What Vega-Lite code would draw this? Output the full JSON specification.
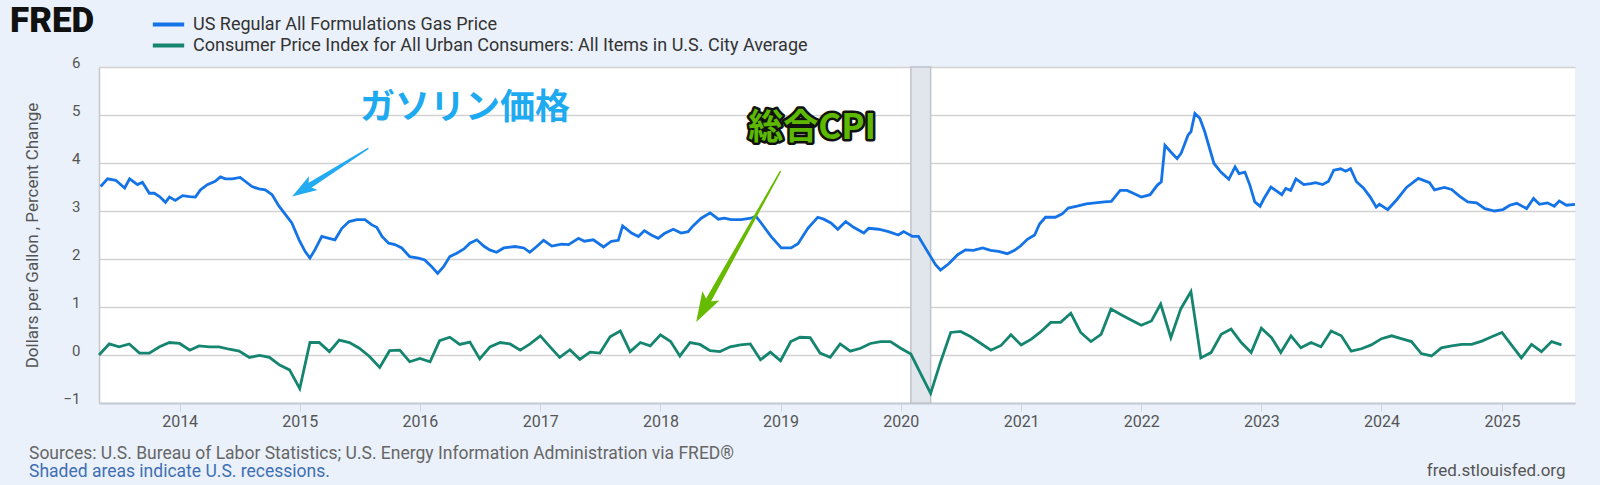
{
  "$schema": "https://vega.github.io/schema/vega-lite/v6.json",
  "width": 1476,
  "height": 336,
  "autosize": "none",
  "padding": {"left": 99, "top": 67, "right": 25, "bottom": 82},
  "background": "#eaf1fa",
  "title": {
    "text": "Sources: U.S. Bureau of Labor Statistics; U.S. Energy Information Administration via FRED®",
    "subtitle": "Shaded areas indicate U.S. recessions.",
    "orient": "bottom",
    "anchor": "start",
    "frame": "group",
    "dx": -70,
    "offset": -33,
    "font": "Roboto",
    "fontSize": 17.5,
    "fontWeight": "normal",
    "color": "#666666",
    "subtitleFont": "Roboto",
    "subtitleFontSize": 17.5,
    "subtitleColor": "#3f6fb3",
    "subtitlePadding": 0
  },
  "datasets": {
    "gas": [
      {"date": "2013-05-06", "price": 3.51}, {"date": "2013-05-27", "price": 3.67}, {"date": "2013-06-21", "price": 3.64},
      {"date": "2013-07-18", "price": 3.48}, {"date": "2013-08-02", "price": 3.67}, {"date": "2013-08-26", "price": 3.55},
      {"date": "2013-09-10", "price": 3.60}, {"date": "2013-10-01", "price": 3.37}, {"date": "2013-10-16", "price": 3.37},
      {"date": "2013-11-01", "price": 3.30}, {"date": "2013-11-19", "price": 3.18}, {"date": "2013-12-01", "price": 3.29},
      {"date": "2013-12-19", "price": 3.22}, {"date": "2014-01-10", "price": 3.32}, {"date": "2014-01-31", "price": 3.30},
      {"date": "2014-02-18", "price": 3.29}, {"date": "2014-03-05", "price": 3.44}, {"date": "2014-03-26", "price": 3.55},
      {"date": "2014-04-19", "price": 3.62}, {"date": "2014-05-05", "price": 3.71}, {"date": "2014-05-20", "price": 3.67},
      {"date": "2014-06-10", "price": 3.67}, {"date": "2014-07-04", "price": 3.70}, {"date": "2014-07-19", "price": 3.62},
      {"date": "2014-08-09", "price": 3.51}, {"date": "2014-08-30", "price": 3.46}, {"date": "2014-09-18", "price": 3.44},
      {"date": "2014-10-09", "price": 3.34}, {"date": "2014-10-30", "price": 3.10}, {"date": "2014-11-17", "price": 2.94},
      {"date": "2014-12-08", "price": 2.75}, {"date": "2014-12-30", "price": 2.40}, {"date": "2015-01-17", "price": 2.16},
      {"date": "2015-02-01", "price": 2.02}, {"date": "2015-02-16", "price": 2.19}, {"date": "2015-03-09", "price": 2.47},
      {"date": "2015-03-31", "price": 2.43}, {"date": "2015-04-18", "price": 2.40}, {"date": "2015-05-09", "price": 2.64},
      {"date": "2015-05-31", "price": 2.78}, {"date": "2015-06-24", "price": 2.82}, {"date": "2015-07-18", "price": 2.82},
      {"date": "2015-08-08", "price": 2.71}, {"date": "2015-08-23", "price": 2.66}, {"date": "2015-09-08", "price": 2.47},
      {"date": "2015-09-28", "price": 2.33}, {"date": "2015-10-17", "price": 2.30}, {"date": "2015-11-07", "price": 2.23},
      {"date": "2015-12-01", "price": 2.05}, {"date": "2015-12-28", "price": 2.02}, {"date": "2016-01-16", "price": 1.98},
      {"date": "2016-02-06", "price": 1.84}, {"date": "2016-02-24", "price": 1.70}, {"date": "2016-03-13", "price": 1.84},
      {"date": "2016-04-01", "price": 2.05}, {"date": "2016-04-22", "price": 2.12}, {"date": "2016-05-14", "price": 2.21},
      {"date": "2016-06-01", "price": 2.33}, {"date": "2016-06-22", "price": 2.40}, {"date": "2016-07-13", "price": 2.27},
      {"date": "2016-07-31", "price": 2.19}, {"date": "2016-08-21", "price": 2.14}, {"date": "2016-09-12", "price": 2.23},
      {"date": "2016-10-16", "price": 2.26}, {"date": "2016-11-12", "price": 2.23}, {"date": "2016-11-30", "price": 2.14},
      {"date": "2016-12-21", "price": 2.26}, {"date": "2017-01-11", "price": 2.39}, {"date": "2017-02-05", "price": 2.27},
      {"date": "2017-03-07", "price": 2.31}, {"date": "2017-03-28", "price": 2.30}, {"date": "2017-04-27", "price": 2.43},
      {"date": "2017-05-15", "price": 2.37}, {"date": "2017-06-11", "price": 2.40}, {"date": "2017-07-12", "price": 2.25},
      {"date": "2017-08-05", "price": 2.37}, {"date": "2017-08-26", "price": 2.39}, {"date": "2017-09-08", "price": 2.69},
      {"date": "2017-10-05", "price": 2.54}, {"date": "2017-10-26", "price": 2.47}, {"date": "2017-11-13", "price": 2.59},
      {"date": "2017-12-04", "price": 2.50}, {"date": "2017-12-25", "price": 2.43}, {"date": "2018-01-13", "price": 2.53},
      {"date": "2018-02-09", "price": 2.62}, {"date": "2018-03-05", "price": 2.54}, {"date": "2018-03-26", "price": 2.57},
      {"date": "2018-04-10", "price": 2.69}, {"date": "2018-05-05", "price": 2.85}, {"date": "2018-06-01", "price": 2.96},
      {"date": "2018-06-26", "price": 2.83}, {"date": "2018-07-14", "price": 2.85}, {"date": "2018-08-04", "price": 2.82},
      {"date": "2018-09-03", "price": 2.82}, {"date": "2018-10-03", "price": 2.85}, {"date": "2018-10-18", "price": 2.89},
      {"date": "2018-11-03", "price": 2.75}, {"date": "2018-12-03", "price": 2.47}, {"date": "2019-01-03", "price": 2.23},
      {"date": "2019-02-02", "price": 2.23}, {"date": "2019-02-23", "price": 2.32}, {"date": "2019-03-25", "price": 2.64},
      {"date": "2019-04-24", "price": 2.87}, {"date": "2019-05-12", "price": 2.83}, {"date": "2019-06-03", "price": 2.75},
      {"date": "2019-06-24", "price": 2.62}, {"date": "2019-07-18", "price": 2.78}, {"date": "2019-08-11", "price": 2.66},
      {"date": "2019-09-11", "price": 2.54}, {"date": "2019-09-26", "price": 2.64}, {"date": "2019-10-26", "price": 2.62},
      {"date": "2019-11-25", "price": 2.57}, {"date": "2019-12-25", "price": 2.50}, {"date": "2020-01-10", "price": 2.57},
      {"date": "2020-02-06", "price": 2.47}, {"date": "2020-02-24", "price": 2.47}, {"date": "2020-03-10", "price": 2.30},
      {"date": "2020-04-01", "price": 2.05}, {"date": "2020-04-16", "price": 1.88}, {"date": "2020-05-01", "price": 1.77},
      {"date": "2020-05-26", "price": 1.90}, {"date": "2020-06-22", "price": 2.09}, {"date": "2020-07-16", "price": 2.19},
      {"date": "2020-08-09", "price": 2.18}, {"date": "2020-09-06", "price": 2.23}, {"date": "2020-09-30", "price": 2.18},
      {"date": "2020-10-24", "price": 2.16}, {"date": "2020-11-20", "price": 2.11}, {"date": "2020-12-12", "price": 2.18},
      {"date": "2020-12-30", "price": 2.27}, {"date": "2021-01-20", "price": 2.41}, {"date": "2021-02-11", "price": 2.50},
      {"date": "2021-02-26", "price": 2.73}, {"date": "2021-03-16", "price": 2.87}, {"date": "2021-04-15", "price": 2.87},
      {"date": "2021-05-06", "price": 2.94}, {"date": "2021-05-24", "price": 3.06}, {"date": "2021-06-20", "price": 3.10},
      {"date": "2021-07-18", "price": 3.15}, {"date": "2021-08-14", "price": 3.17}, {"date": "2021-09-11", "price": 3.19},
      {"date": "2021-10-02", "price": 3.20}, {"date": "2021-10-29", "price": 3.43}, {"date": "2021-11-19", "price": 3.43},
      {"date": "2021-12-11", "price": 3.36}, {"date": "2022-01-01", "price": 3.29}, {"date": "2022-01-28", "price": 3.34},
      {"date": "2022-02-19", "price": 3.54}, {"date": "2022-03-03", "price": 3.61}, {"date": "2022-03-14", "price": 4.37},
      {"date": "2022-04-01", "price": 4.23}, {"date": "2022-04-20", "price": 4.09}, {"date": "2022-05-02", "price": 4.20},
      {"date": "2022-05-23", "price": 4.58}, {"date": "2022-06-01", "price": 4.65}, {"date": "2022-06-13", "price": 5.03},
      {"date": "2022-06-28", "price": 4.93}, {"date": "2022-07-13", "price": 4.65}, {"date": "2022-08-10", "price": 3.99},
      {"date": "2022-08-31", "price": 3.81}, {"date": "2022-09-24", "price": 3.66}, {"date": "2022-10-13", "price": 3.92},
      {"date": "2022-10-25", "price": 3.78}, {"date": "2022-11-12", "price": 3.81}, {"date": "2022-11-27", "price": 3.54},
      {"date": "2022-12-12", "price": 3.19}, {"date": "2022-12-28", "price": 3.10}, {"date": "2023-01-09", "price": 3.26},
      {"date": "2023-01-30", "price": 3.50}, {"date": "2023-02-20", "price": 3.40}, {"date": "2023-03-04", "price": 3.34},
      {"date": "2023-03-16", "price": 3.47}, {"date": "2023-03-31", "price": 3.43}, {"date": "2023-04-16", "price": 3.67},
      {"date": "2023-05-10", "price": 3.55}, {"date": "2023-05-31", "price": 3.57}, {"date": "2023-06-15", "price": 3.59},
      {"date": "2023-07-06", "price": 3.55}, {"date": "2023-07-24", "price": 3.62}, {"date": "2023-08-09", "price": 3.85},
      {"date": "2023-08-30", "price": 3.88}, {"date": "2023-09-14", "price": 3.83}, {"date": "2023-09-29", "price": 3.88},
      {"date": "2023-10-17", "price": 3.61}, {"date": "2023-11-07", "price": 3.48}, {"date": "2023-11-28", "price": 3.29},
      {"date": "2023-12-16", "price": 3.08}, {"date": "2023-12-26", "price": 3.14}, {"date": "2024-01-20", "price": 3.03},
      {"date": "2024-02-17", "price": 3.24}, {"date": "2024-03-17", "price": 3.49}, {"date": "2024-04-22", "price": 3.68},
      {"date": "2024-05-26", "price": 3.59}, {"date": "2024-06-10", "price": 3.44}, {"date": "2024-07-10", "price": 3.49},
      {"date": "2024-08-01", "price": 3.45}, {"date": "2024-08-25", "price": 3.31}, {"date": "2024-09-19", "price": 3.19},
      {"date": "2024-10-16", "price": 3.17}, {"date": "2024-11-10", "price": 3.05}, {"date": "2024-12-10", "price": 3.00},
      {"date": "2025-01-04", "price": 3.03}, {"date": "2025-01-25", "price": 3.12}, {"date": "2025-02-15", "price": 3.16},
      {"date": "2025-03-17", "price": 3.05}, {"date": "2025-04-07", "price": 3.26}, {"date": "2025-04-25", "price": 3.14},
      {"date": "2025-05-19", "price": 3.17}, {"date": "2025-06-09", "price": 3.10}, {"date": "2025-06-24", "price": 3.21},
      {"date": "2025-07-16", "price": 3.12}, {"date": "2025-08-11", "price": 3.14}
    ],
    "cpi": [
      {"date": "2013-05-01", "pct": 0.00}, {"date": "2013-06-01", "pct": 0.23}, {"date": "2013-07-01", "pct": 0.17}, {"date": "2013-08-01", "pct": 0.23},
      {"date": "2013-09-01", "pct": 0.04}, {"date": "2013-10-01", "pct": 0.04}, {"date": "2013-11-01", "pct": 0.17}, {"date": "2013-12-01", "pct": 0.26},
      {"date": "2014-01-01", "pct": 0.24}, {"date": "2014-02-01", "pct": 0.10}, {"date": "2014-03-01", "pct": 0.19}, {"date": "2014-04-01", "pct": 0.17},
      {"date": "2014-05-01", "pct": 0.17}, {"date": "2014-06-01", "pct": 0.12}, {"date": "2014-07-01", "pct": 0.08}, {"date": "2014-08-01", "pct": -0.05},
      {"date": "2014-09-01", "pct": -0.01}, {"date": "2014-10-01", "pct": -0.05}, {"date": "2014-11-01", "pct": -0.21}, {"date": "2014-12-01", "pct": -0.31},
      {"date": "2015-01-01", "pct": -0.70}, {"date": "2015-02-01", "pct": 0.26}, {"date": "2015-03-01", "pct": 0.26}, {"date": "2015-04-01", "pct": 0.07},
      {"date": "2015-05-01", "pct": 0.31}, {"date": "2015-06-01", "pct": 0.26}, {"date": "2015-07-01", "pct": 0.14}, {"date": "2015-08-01", "pct": -0.03},
      {"date": "2015-09-01", "pct": -0.26}, {"date": "2015-10-01", "pct": 0.09}, {"date": "2015-11-01", "pct": 0.10}, {"date": "2015-12-01", "pct": -0.14},
      {"date": "2016-01-01", "pct": -0.07}, {"date": "2016-02-01", "pct": -0.14}, {"date": "2016-03-01", "pct": 0.30}, {"date": "2016-04-01", "pct": 0.37},
      {"date": "2016-05-01", "pct": 0.22}, {"date": "2016-06-01", "pct": 0.27}, {"date": "2016-07-01", "pct": -0.08}, {"date": "2016-08-01", "pct": 0.17},
      {"date": "2016-09-01", "pct": 0.26}, {"date": "2016-10-01", "pct": 0.23}, {"date": "2016-11-01", "pct": 0.10}, {"date": "2016-12-01", "pct": 0.23},
      {"date": "2017-01-01", "pct": 0.40}, {"date": "2017-02-01", "pct": 0.16}, {"date": "2017-03-01", "pct": -0.05}, {"date": "2017-04-01", "pct": 0.11},
      {"date": "2017-05-01", "pct": -0.09}, {"date": "2017-06-01", "pct": 0.06}, {"date": "2017-07-01", "pct": 0.04}, {"date": "2017-08-01", "pct": 0.38},
      {"date": "2017-09-01", "pct": 0.50}, {"date": "2017-10-01", "pct": 0.07}, {"date": "2017-11-01", "pct": 0.26}, {"date": "2017-12-01", "pct": 0.19},
      {"date": "2018-01-01", "pct": 0.42}, {"date": "2018-02-01", "pct": 0.28}, {"date": "2018-03-01", "pct": -0.02}, {"date": "2018-04-01", "pct": 0.26},
      {"date": "2018-05-01", "pct": 0.22}, {"date": "2018-06-01", "pct": 0.09}, {"date": "2018-07-01", "pct": 0.07}, {"date": "2018-08-01", "pct": 0.17},
      {"date": "2018-09-01", "pct": 0.21}, {"date": "2018-10-01", "pct": 0.23}, {"date": "2018-11-01", "pct": -0.10}, {"date": "2018-12-01", "pct": 0.06},
      {"date": "2019-01-01", "pct": -0.12}, {"date": "2019-02-01", "pct": 0.28}, {"date": "2019-03-01", "pct": 0.37}, {"date": "2019-04-01", "pct": 0.36},
      {"date": "2019-05-01", "pct": 0.04}, {"date": "2019-06-01", "pct": -0.05}, {"date": "2019-07-01", "pct": 0.23}, {"date": "2019-08-01", "pct": 0.08},
      {"date": "2019-09-01", "pct": 0.14}, {"date": "2019-10-01", "pct": 0.24}, {"date": "2019-11-01", "pct": 0.28}, {"date": "2019-12-01", "pct": 0.28},
      {"date": "2020-01-01", "pct": 0.14}, {"date": "2020-02-01", "pct": 0.02}, {"date": "2020-03-01", "pct": -0.38}, {"date": "2020-04-01", "pct": -0.80},
      {"date": "2020-05-01", "pct": -0.15}, {"date": "2020-06-01", "pct": 0.47}, {"date": "2020-07-01", "pct": 0.49}, {"date": "2020-08-01", "pct": 0.38},
      {"date": "2020-09-01", "pct": 0.24}, {"date": "2020-10-01", "pct": 0.10}, {"date": "2020-11-01", "pct": 0.20}, {"date": "2020-12-01", "pct": 0.42},
      {"date": "2021-01-01", "pct": 0.21}, {"date": "2021-02-01", "pct": 0.33}, {"date": "2021-03-01", "pct": 0.48}, {"date": "2021-04-01", "pct": 0.68},
      {"date": "2021-05-01", "pct": 0.68}, {"date": "2021-06-01", "pct": 0.87}, {"date": "2021-07-01", "pct": 0.47}, {"date": "2021-08-01", "pct": 0.28},
      {"date": "2021-09-01", "pct": 0.43}, {"date": "2021-10-01", "pct": 0.96}, {"date": "2021-11-01", "pct": 0.84}, {"date": "2021-12-01", "pct": 0.73},
      {"date": "2022-01-01", "pct": 0.62}, {"date": "2022-02-01", "pct": 0.71}, {"date": "2022-03-01", "pct": 1.06}, {"date": "2022-04-01", "pct": 0.36},
      {"date": "2022-05-01", "pct": 0.96}, {"date": "2022-06-01", "pct": 1.32}, {"date": "2022-07-01", "pct": -0.06}, {"date": "2022-08-01", "pct": 0.05},
      {"date": "2022-09-01", "pct": 0.43}, {"date": "2022-10-01", "pct": 0.54}, {"date": "2022-11-01", "pct": 0.26}, {"date": "2022-12-01", "pct": 0.05},
      {"date": "2023-01-01", "pct": 0.56}, {"date": "2023-02-01", "pct": 0.36}, {"date": "2023-03-01", "pct": 0.05}, {"date": "2023-04-01", "pct": 0.40},
      {"date": "2023-05-01", "pct": 0.15}, {"date": "2023-06-01", "pct": 0.26}, {"date": "2023-07-01", "pct": 0.17}, {"date": "2023-08-01", "pct": 0.50},
      {"date": "2023-09-01", "pct": 0.40}, {"date": "2023-10-01", "pct": 0.08}, {"date": "2023-11-01", "pct": 0.13}, {"date": "2023-12-01", "pct": 0.21},
      {"date": "2024-01-01", "pct": 0.34}, {"date": "2024-02-01", "pct": 0.40}, {"date": "2024-03-01", "pct": 0.34}, {"date": "2024-04-01", "pct": 0.28},
      {"date": "2024-05-01", "pct": 0.03}, {"date": "2024-06-01", "pct": -0.02}, {"date": "2024-07-01", "pct": 0.15}, {"date": "2024-08-01", "pct": 0.19},
      {"date": "2024-09-01", "pct": 0.22}, {"date": "2024-10-01", "pct": 0.22}, {"date": "2024-11-01", "pct": 0.29}, {"date": "2024-12-01", "pct": 0.38},
      {"date": "2025-01-01", "pct": 0.47}, {"date": "2025-02-01", "pct": 0.19}, {"date": "2025-03-01", "pct": -0.06}, {"date": "2025-04-01", "pct": 0.22},
      {"date": "2025-05-01", "pct": 0.07}, {"date": "2025-06-01", "pct": 0.28}, {"date": "2025-07-01", "pct": 0.21}
    ],
    "recession": [{"start": "2020-02-01", "end": "2020-04-01"}],
    "arrows": [
      {"arrow": "gas", "date": "2015-07-27", "value": 4.30, "pos": 0},
      {"arrow": "gas", "date": "2015-01-10", "value": 3.44, "pos": 1},
      {"arrow": "cpi", "date": "2018-12-31", "value": 3.82, "pos": 0},
      {"arrow": "cpi", "date": "2018-05-12", "value": 0.96, "pos": 1}
    ],
    "notes": [
      {"arrow": "gas", "label": "ガソリン価格", "date": "2016-05-17", "value": 5.14},
      {"arrow": "cpi", "label": "総合CPI", "date": "2019-04-07", "value": 4.72}
    ]
  },
  "encoding": {
    "x": {
      "field": "date",
      "type": "temporal",
      "scale": {"type": "utc", "domain": [{"year": 2013, "month": 5, "date": 1, "utc": true}, {"year": 2025, "month": 8, "date": 11, "utc": true}]},
      "axis": {
        "format": "%Y",
        "tickCount": "year",
        "grid": false,
        "labelFlush": false,
        "labelFont": "Roboto",
        "labelFontSize": 16,
        "labelColor": "#555555",
        "labelPadding": 2,
        "tickColor": "#cfd5df",
        "tickSize": 8,
        "domainColor": "#c5ccd8",
        "domainWidth": 2,
        "title": "fred.stlouisfed.org",
        "titleFont": "Roboto",
        "titleFontSize": 17,
        "titleFontWeight": "normal",
        "titleColor": "#555555",
        "titleAnchor": "end",
        "titleAlign": "right",
        "titleBaseline": "middle",
        "titleX": 1466,
        "titleY": 67
      }
    }
  },
  "layer": [
    {
      "data": {"name": "recession"},
      "mark": {"type": "rect", "fill": "#e1e5ec", "stroke": "#bfc4cb", "strokeWidth": 1.5},
      "encoding": {
        "x": {"field": "start", "type": "temporal"},
        "x2": {"field": "end"}
      }
    },
    {
      "data": {"name": "gas"},
      "mark": {"type": "line", "strokeWidth": 2.8},
      "encoding": {
        "y": {
          "field": "price",
          "type": "quantitative",
          "scale": {"domain": [-1, 6], "nice": false, "zero": false},
          "axis": {
            "values": [-1, 0, 1, 2, 3, 4, 5, 6],
            "ticks": false,
            "grid": true,
            "gridColor": "#d2d2d2",
            "gridWidth": 1.6,
            "domainColor": "#c8c8c8",
            "domainWidth": 1.5,
            "labelFont": "Roboto",
            "labelFontSize": 15,
            "labelColor": "#555555",
            "labelPadding": 19,
            "labelBaseline": "alphabetic",
            "title": "Dollars per Gallon , Percent Change",
            "titleFont": "Roboto",
            "titleFontSize": 17,
            "titleFontWeight": "normal",
            "titleColor": "#555555",
            "titleX": -67,
            "titleY": 168,
            "titleAlign": "center",
            "titleBaseline": "middle"
          }
        },
        "color": {
          "datum": "US Regular All Formulations Gas Price",
          "type": "nominal",
          "scale": {
            "domain": ["US Regular All Formulations Gas Price", "Consumer Price Index for All Urban Consumers: All Items in U.S. City Average"],
            "range": ["#1473e6", "#168570"]
          },
          "legend": {
            "orient": "none",
            "legendX": -89,
            "legendY": -54,
            "title": "FRED",
            "titleOrient": "left",
            "titleAnchor": "start",
            "titleAngle": 0,
            "titleFont": "Roboto",
            "titleFontSize": 35,
            "titleFontWeight": 900,
            "titleColor": "#111111",
            "titlePadding": 62,
            "titleBaseline": "line-top",
            "titleLineHeight": 18,
            "symbolType": "M-1.65,0L1.65,0",
            "symbolStrokeWidth": 4,
            "symbolSize": 361,
            "labelFont": "Roboto",
            "labelFontSize": 18,
            "labelColor": "#333333",
            "labelOffset": 13,
            "labelLimit": 900,
            "rowPadding": 0
          }
        }
      }
    },
    {
      "mark": {"type": "rule", "color": "#111111", "strokeWidth": 1.8},
      "encoding": {"y": {"datum": 0, "type": "quantitative"}}
    },
    {
      "data": {"name": "cpi"},
      "mark": {"type": "line", "strokeWidth": 2.8},
      "encoding": {
        "y": {"field": "pct", "type": "quantitative"},
        "color": {"datum": "Consumer Price Index for All Urban Consumers: All Items in U.S. City Average", "type": "nominal"}
      }
    },
    {
      "data": {"name": "arrows"},
      "transform": [{"filter": "datum.arrow === 'gas'"}],
      "mark": {"type": "trail", "color": "#22aaf2"},
      "encoding": {
        "y": {"field": "value", "type": "quantitative"},
        "order": {"field": "pos"},
        "size": {"field": "pos", "type": "quantitative", "scale": {"domain": [0, 1], "range": [1.5, 6]}, "legend": null}
      }
    },
    {
      "data": {"name": "arrows"},
      "transform": [{"filter": "datum.arrow === 'gas' && datum.pos === 1"}],
      "mark": {"type": "point", "shape": "M0,-1L0.65,1L0,0.55L-0.65,1Z", "size": 625, "angle": 237.7, "filled": true, "color": "#22aaf2", "opacity": 1},
      "encoding": {"y": {"field": "value", "type": "quantitative"}}
    },
    {
      "data": {"name": "arrows"},
      "transform": [{"filter": "datum.arrow === 'cpi'"}],
      "mark": {"type": "trail", "color": "#66bb00"},
      "encoding": {
        "y": {"field": "value", "type": "quantitative"},
        "order": {"field": "pos"},
        "size": {"field": "pos", "type": "quantitative", "scale": {"domain": [0, 1], "range": [1.5, 6]}, "legend": null}
      }
    },
    {
      "data": {"name": "arrows"},
      "transform": [{"filter": "datum.arrow === 'cpi' && datum.pos === 1"}],
      "mark": {"type": "point", "shape": "M0,-1L0.65,1L0,0.55L-0.65,1Z", "size": 900, "angle": 209.3, "filled": true, "color": "#66bb00", "opacity": 1},
      "encoding": {"y": {"field": "value", "type": "quantitative"}}
    },
    {
      "data": {"name": "notes"},
      "transform": [{"filter": "datum.arrow === 'gas'"}],
      "mark": {"type": "text", "font": "Noto Sans CJK JP", "fontSize": 35, "fontWeight": "bold", "color": "#1eaaf1", "align": "center", "baseline": "middle"},
      "encoding": {
        "y": {"field": "value", "type": "quantitative"},
        "text": {"field": "label"}
      }
    },
    {
      "data": {"name": "notes"},
      "transform": [{"filter": "datum.arrow === 'cpi'"}],
      "mark": {"type": "text", "font": "Noto Sans CJK JP", "fontSize": 35, "fontWeight": "bold", "fill": "#111111", "stroke": "#111111", "strokeWidth": 5, "strokeJoin": "round", "align": "center", "baseline": "middle"},
      "encoding": {
        "y": {"field": "value", "type": "quantitative"},
        "text": {"field": "label"}
      }
    },
    {
      "data": {"name": "notes"},
      "transform": [{"filter": "datum.arrow === 'cpi'"}],
      "mark": {"type": "text", "font": "Noto Sans CJK JP", "fontSize": 35, "fontWeight": "bold", "fill": "#5cb800", "align": "center", "baseline": "middle"},
      "encoding": {
        "y": {"field": "value", "type": "quantitative"},
        "text": {"field": "label"}
      }
    }
  ],
  "config": {
    "view": {"fill": "#ffffff", "stroke": null},
    "font": "Roboto"
  }
}
